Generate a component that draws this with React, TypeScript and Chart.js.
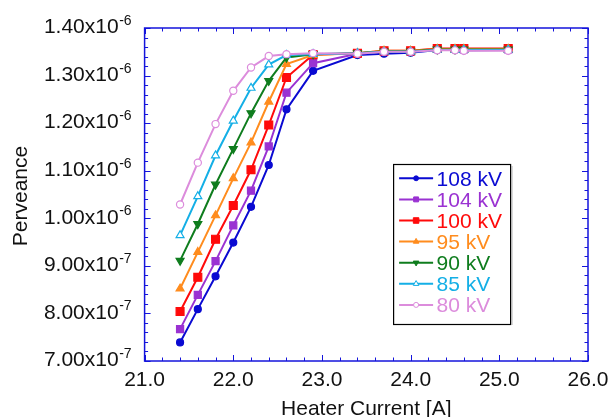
import React, { useEffect, useRef } from 'react';
import { Chart, registerables } from 'chart.js';
import { drawPoint } from 'chart.js/helpers';

Chart.register(...registerables);

// ---- data ----
const heaterCurrent = [21.4, 21.6, 21.8, 22.0, 22.2, 22.4, 22.6, 22.9, 23.4, 23.7, 24.0, 24.3, 24.5, 24.6, 25.1];

const perv108kV = [0.739e-6, 0.809e-6, 0.878e-6, 0.949e-6, 1.024e-6, 1.112e-6, 1.229e-6, 1.310e-6, 1.343e-6, 1.346e-6, 1.348e-6, 1.354e-6, 1.354e-6, 1.353e-6, 1.354e-6];
const perv104kV = [0.767e-6, 0.839e-6, 0.910e-6, 0.985e-6, 1.058e-6, 1.151e-6, 1.264e-6, 1.326e-6, 1.346e-6, 1.350e-6, 1.351e-6, 1.356e-6, 1.356e-6, 1.355e-6, 1.355e-6];
const perv100kV = [0.804e-6, 0.876e-6, 0.956e-6, 1.027e-6, 1.102e-6, 1.196e-6, 1.296e-6, 1.344e-6, 1.347e-6, 1.352e-6, 1.352e-6, 1.357e-6, 1.357e-6, 1.357e-6, 1.357e-6];
const perv95kV = [0.852e-6, 0.929e-6, 1.006e-6, 1.084e-6, 1.159e-6, 1.245e-6, 1.324e-6, 1.343e-6, 1.347e-6, 1.352e-6, 1.352e-6, 1.356e-6, 1.356e-6, 1.356e-6, 1.356e-6];
const perv90kV = [0.911e-6, 0.988e-6, 1.071e-6, 1.146e-6, 1.221e-6, 1.289e-6, 1.338e-6, 1.345e-6, 1.347e-6, 1.351e-6, 1.351e-6, 1.355e-6, 1.355e-6, 1.355e-6, 1.355e-6];
const perv85kV = [0.964e-6, 1.046e-6, 1.132e-6, 1.205e-6, 1.274e-6, 1.323e-6, 1.343e-6, 1.345e-6, 1.347e-6, 1.350e-6, 1.350e-6, 1.354e-6, 1.354e-6, 1.354e-6, 1.354e-6];
const perv80kV = [1.029e-6, 1.117e-6, 1.198e-6, 1.268e-6, 1.317e-6, 1.341e-6, 1.345e-6, 1.347e-6, 1.346e-6, 1.350e-6, 1.350e-6, 1.353e-6, 1.353e-6, 1.352e-6, 1.352e-6];

const seriesLabels = ['108 kV', '104 kV', '100 kV', '95 kV', '90 kV', '85 kV', '80 kV'];
const seriesValues = [perv108kV, perv104kV, perv100kV, perv95kV, perv90kV, perv85kV, perv80kV];

const xTickValues = [21, 22, 23, 24, 25, 26];
const xTickLabels = ['21.0', '22.0', '23.0', '24.0', '25.0', '26.0'];
const yTickValues = [0.7e-6, 0.8e-6, 0.9e-6, 1.0e-6, 1.1e-6, 1.2e-6, 1.3e-6, 1.4e-6];
const yTickMantissas = ['7.00x10', '8.00x10', '9.00x10', '1.00x10', '1.10x10', '1.20x10', '1.30x10', '1.40x10'];
const yTickExponents = ['-7', '-7', '-7', '-6', '-6', '-6', '-6', '-6'];

const xTitle = 'Heater Current [A]';
const yTitle = 'Perveance';

// ---- styles ----
const seriesColors = ['#0a0ad2', '#9a32d2', '#ff0a0a', '#ff8c1e', '#0f7d1e', '#14afe6', '#dc8cdc'];
const seriesFills = ['#0a0ad2', '#9a32d2', '#ff0a0a', '#ff8c1e', '#0f7d1e', '#ffffff', '#ffffff'];
const seriesPointStyles = ['circle', 'rect', 'rect', 'triangle', 'triangle', 'triangle', 'circle'];
const seriesPointRadius = [3.5, 5, 5.6, 4.6, 4.6, 4.6, 3.6];
const seriesPointRotation = [0, 0, 0, 0, 180, 0, 0];

const FONT = "'Liberation Sans', Arial, Helvetica, sans-serif";
const AXIS_COLOR = '#1414dc';

const decorPlugin = {
  id: 'decor',
  afterDraw(chart: any) {
    const { ctx, chartArea: a, scales } = chart;
    const xs = scales.x;
    const ys = scales.y;
    ctx.save();

    // frame
    ctx.strokeStyle = AXIS_COLOR;
    ctx.lineWidth = 1.5;
    ctx.strokeRect(a.left, a.top, a.right - a.left, a.bottom - a.top);

    // x ticks (inside, top and bottom)
    ctx.lineWidth = 1;
    for (let k = 0; k <= 25; k++) {
      const v = xs.min + k * 0.2;
      const px = Math.round(xs.getPixelForValue(v)) + 0.5;
      const len = k % 5 === 0 ? 6 : 3.5;
      ctx.beginPath();
      ctx.moveTo(px, a.bottom);
      ctx.lineTo(px, a.bottom - len);
      ctx.moveTo(px, a.top);
      ctx.lineTo(px, a.top + len);
      ctx.stroke();
    }
    // y ticks (inside, left and right)
    for (let k = 0; k <= 35; k++) {
      const v = ys.min + k * 0.02e-6;
      const py = Math.round(ys.getPixelForValue(v)) + 0.5;
      const len = k % 5 === 0 ? 6 : 3.5;
      ctx.beginPath();
      ctx.moveTo(a.left, py);
      ctx.lineTo(a.left + len, py);
      ctx.moveTo(a.right, py);
      ctx.lineTo(a.right - len, py);
      ctx.stroke();
    }

    // x tick labels
    ctx.fillStyle = '#111';
    ctx.font = `21px ${FONT}`;
    ctx.textAlign = 'center';
    ctx.textBaseline = 'alphabetic';
    xTickValues.forEach((v, i) => {
      ctx.fillText(xTickLabels[i], xs.getPixelForValue(v), a.bottom + 24.5);
    });

    // y tick labels with superscript exponents
    const rightEdge = a.left - 13;
    yTickValues.forEach((v, i) => {
      const py = ys.getPixelForValue(v);
      ctx.font = `14px ${FONT}`;
      const ew = ctx.measureText(yTickExponents[i]).width;
      ctx.textAlign = 'right';
      ctx.fillText(yTickExponents[i], rightEdge, py - 3);
      ctx.font = `21px ${FONT}`;
      ctx.fillText(yTickMantissas[i], rightEdge - ew - 0.5, py + 5.3);
    });

    // axis titles
    ctx.font = `21px ${FONT}`;
    ctx.textAlign = 'center';
    ctx.fillText(xTitle, (a.left + a.right) / 2, a.bottom + 54);
    ctx.save();
    ctx.translate(26.7, (a.top + a.bottom) / 2 + 1.5);
    ctx.rotate(-Math.PI / 2);
    ctx.fillText(yTitle, 0, 0);
    ctx.restore();

    // legend box
    const bx = a.left + 248.5;
    const by = a.top + 136;
    const bw = 117;
    const bh = 160;
    ctx.fillStyle = '#fff';
    ctx.fillRect(bx, by, bw, bh);
    ctx.strokeStyle = '#000';
    ctx.lineWidth = 1.2;
    ctx.strokeRect(bx + 0.5, by + 0.5, bw, bh);
    ctx.strokeStyle = 'rgba(0,0,0,0.25)';
    ctx.lineWidth = 1;
    ctx.beginPath();
    ctx.moveTo(bx + bw + 2, by + 2);
    ctx.lineTo(bx + bw + 2, by + bh + 1);
    ctx.stroke();

    seriesLabels.forEach((label, i) => {
      const cy = by + 14.3 + i * 21.1;
      ctx.strokeStyle = seriesColors[i];
      ctx.lineWidth = 2;
      ctx.beginPath();
      ctx.moveTo(bx + 6, cy);
      ctx.lineTo(bx + 40, cy);
      ctx.stroke();
      ctx.fillStyle = seriesFills[i];
      ctx.lineWidth = 1;
      drawPoint(ctx, {
        pointStyle: seriesPointStyles[i],
        radius: seriesPointRadius[i] * 0.7,
        rotation: seriesPointRotation[i],
        borderWidth: 1,
      } as any, bx + 23, cy);
      ctx.fillStyle = seriesColors[i];
      ctx.font = `21px ${FONT}`;
      ctx.textAlign = 'left';
      ctx.fillText(label, bx + 43.5, cy + 7.5);
    });

    ctx.restore();
  },
};

export default function App() {
  const ref = useRef<HTMLCanvasElement>(null);
  useEffect(() => {
    const canvas = ref.current!;
    const datasets = seriesLabels.map((label, i) => ({
      label,
      data: heaterCurrent.map((x, j) => ({ x, y: seriesValues[i][j] })),
      borderColor: seriesColors[i],
      backgroundColor: seriesFills[i],
      pointBackgroundColor: seriesFills[i],
      pointBorderColor: seriesColors[i],
      pointStyle: seriesPointStyles[i] as any,
      pointRadius: seriesPointRadius[i],
      pointRotation: seriesPointRotation[i],
      pointBorderWidth: 1.2,
      borderWidth: 2,
      tension: 0,
      fill: false,
      order: seriesLabels.length - 1 - i,
    }));
    const chart = new Chart(canvas, {
      type: 'line',
      data: { datasets },
      options: {
        animation: false,
        responsive: false,
        devicePixelRatio: 1,
        layout: { padding: { left: 144.6, top: 28, right: 22, bottom: 56 } },
        plugins: { legend: { display: false }, tooltip: { enabled: false } },
        scales: {
          x: { type: 'linear', min: 21, max: 26, display: false },
          y: { type: 'linear', min: 0.7e-6, max: 1.4e-6, display: false },
        },
      },
      plugins: [decorPlugin],
    });
    return () => chart.destroy();
  }, []);
  return (
    <div style={{ position: 'fixed', left: 0, top: 0, width: 610, height: 417, background: '#fff' }}>
      <canvas ref={ref} width={610} height={417} style={{ width: 610, height: 417, display: 'block' }} />
    </div>
  );
}
